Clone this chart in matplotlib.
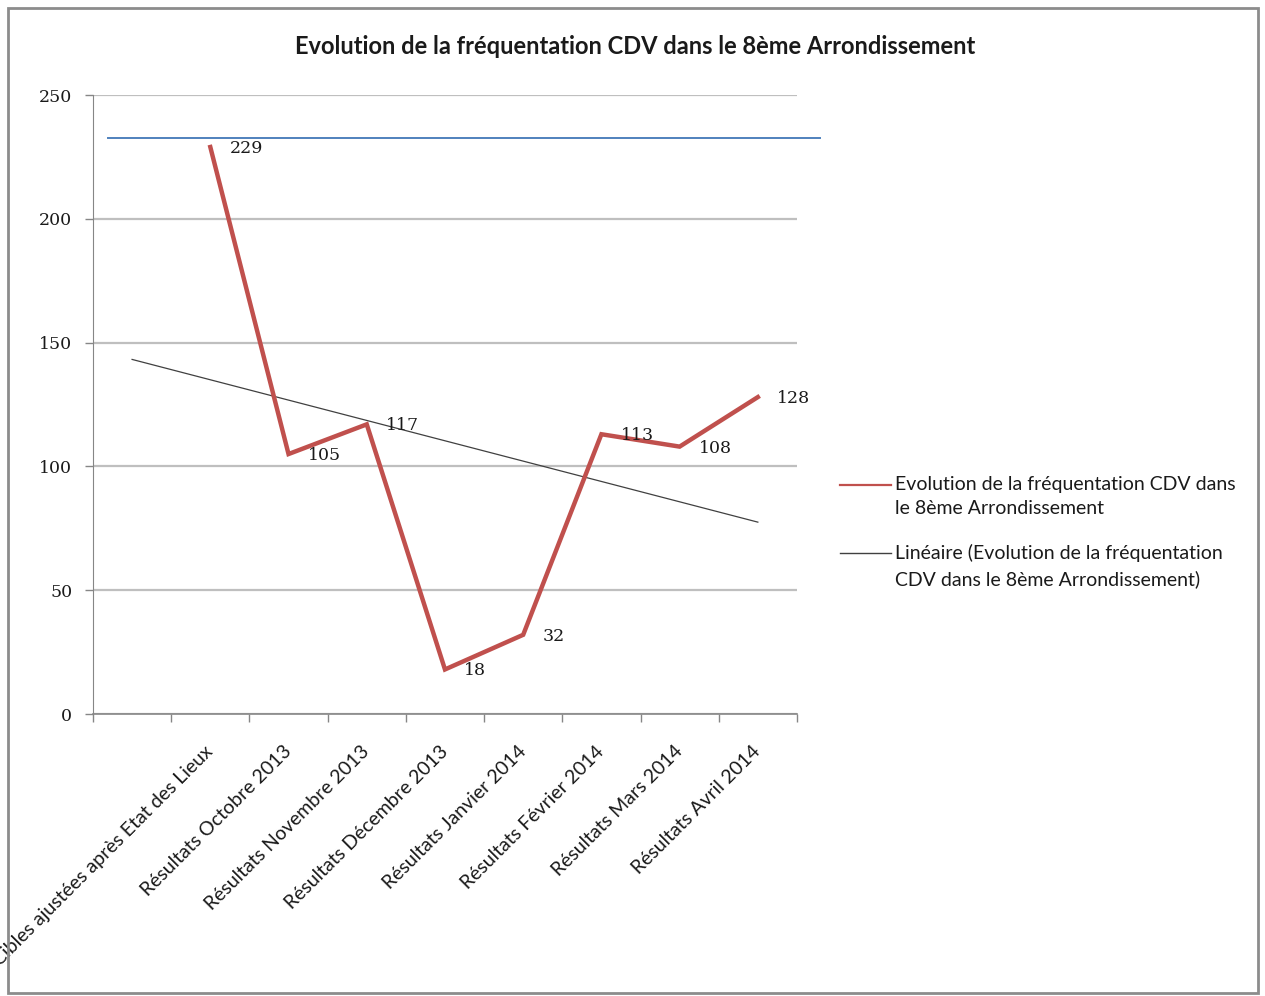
import matplotlib
matplotlib.use("Agg")
import matplotlib.pyplot as plt
from matplotlib.lines import Line2D
from matplotlib.patches import Rectangle
import matplotlib.transforms as mtransforms
import numpy as np

# series: first category is an empty slot
categories = ["", "Cibles ajustées après Etat des Lieux", "Résultats Octobre 2013",
              "Résultats Novembre 2013", "Résultats Décembre 2013",
              "Résultats Janvier 2014", "Résultats Février 2014",
              "Résultats Mars 2014", "Résultats Avril 2014"]
frequentation = [None, 229, 105, 117, 18, 32, 113, 108, 128]
objectif = 232.5
y_ticks = [0, 50, 100, 150, 200, 250]

title = "Evolution de la fréquentation CDV dans le 8ème Arrondissement"
leg_serie = "Evolution de la fréquentation CDV dans\nle 8ème Arrondissement"
leg_trend = "Linéaire (Evolution de la fréquentation\nCDV dans le 8ème Arrondissement)"

RED = "#C0504D"
BLUE = "#4F81BD"
GRID = "#BFBFBF"
SANS = ["Lato", "DejaVu Sans"]
SERIF = ["DejaVu Serif"]

fig = plt.figure(figsize=(12.65, 9.96), dpi=100)
fig.patch.set_facecolor("white")
ax = fig.add_axes([0.0735, 0.2831, 0.5565, 0.6215])

x = np.arange(len(categories))
pts = [(i, v) for i, v in enumerate(frequentation) if v is not None]
xs = np.array([p[0] for p in pts])
ys = np.array([p[1] for p in pts])

# linear trend over the whole category span
slope, icpt = np.polyfit(xs, ys, 1)
ax.plot(x, slope * x + icpt, color="#404040", lw=0.9, zorder=2)

ax.plot(xs, ys, color=RED, lw=3.2, solid_joinstyle="miter", zorder=3)

for xi, yi in zip(xs, ys):
    ax.annotate(f"{yi}", (xi, yi), xytext=(14, -1), textcoords="offset points",
                ha="left", va="center", fontsize=12.5, family=SERIF, color="#1a1a1a")

# target line, runs a little past the plot area on the right
trans = mtransforms.blended_transform_factory(ax.transAxes, ax.transData)
ax.plot([0.021, 1.033], [objectif, objectif], color=BLUE, lw=1.4,
        transform=trans, clip_on=False, zorder=2)

ax.set_xlim(-0.5, len(categories) - 0.5)
ax.set_ylim(0, 250)
ax.set_yticks(y_ticks)
ax.set_yticklabels([str(t) for t in y_ticks], family=SERIF, fontsize=12.5, color="#1a1a1a")
ax.yaxis.grid(True, color=GRID, lw=1.6)
ax.set_axisbelow(True)

ax.set_xticks(x)
ax.set_xticklabels(categories, rotation=45, ha="right", va="center",
                   rotation_mode="anchor", family=SANS, fontsize=14, color="#1a1a1a")
ax.set_xticks(np.arange(len(categories) + 1) - 0.5, minor=True)
ax.tick_params(axis="x", which="major", length=0, pad=25)
ax.tick_params(axis="x", which="minor", length=6, color="#868686", width=1)
ax.tick_params(axis="y", length=6, color="#868686", width=1, pad=9)

for side in ("top", "right"):
    ax.spines[side].set_visible(False)
ax.spines["left"].set_color("#868686")
ax.spines["bottom"].set_color("#868686")
ax.spines["bottom"].set_linewidth(1.2)

fig.text(0.502, 0.9538, title, ha="center", va="center", fontsize=17,
         fontweight="bold", family=SANS, color="#1a1a1a")

# legend
for (y0, col, lw, lab) in [(0.513, RED, 1.6, leg_serie), (0.4448, "#404040", 1.0, leg_trend)]:
    fig.add_artist(Line2D([0.664, 0.704], [y0, y0], color=col, lw=lw,
                          transform=fig.transFigure))
    fig.text(0.7075, y0 + 0.0095, lab, ha="left", va="top", fontsize=14,
             family=SANS, color="#1a1a1a", linespacing=1.55)

# outer frame
fig.add_artist(Rectangle((0.0065, 0.003), 0.988, 0.989, transform=fig.transFigure,
                         fill=False, edgecolor="#8C8C8C", lw=2))

fig.savefig("out.png", dpi=100, facecolor="white")
